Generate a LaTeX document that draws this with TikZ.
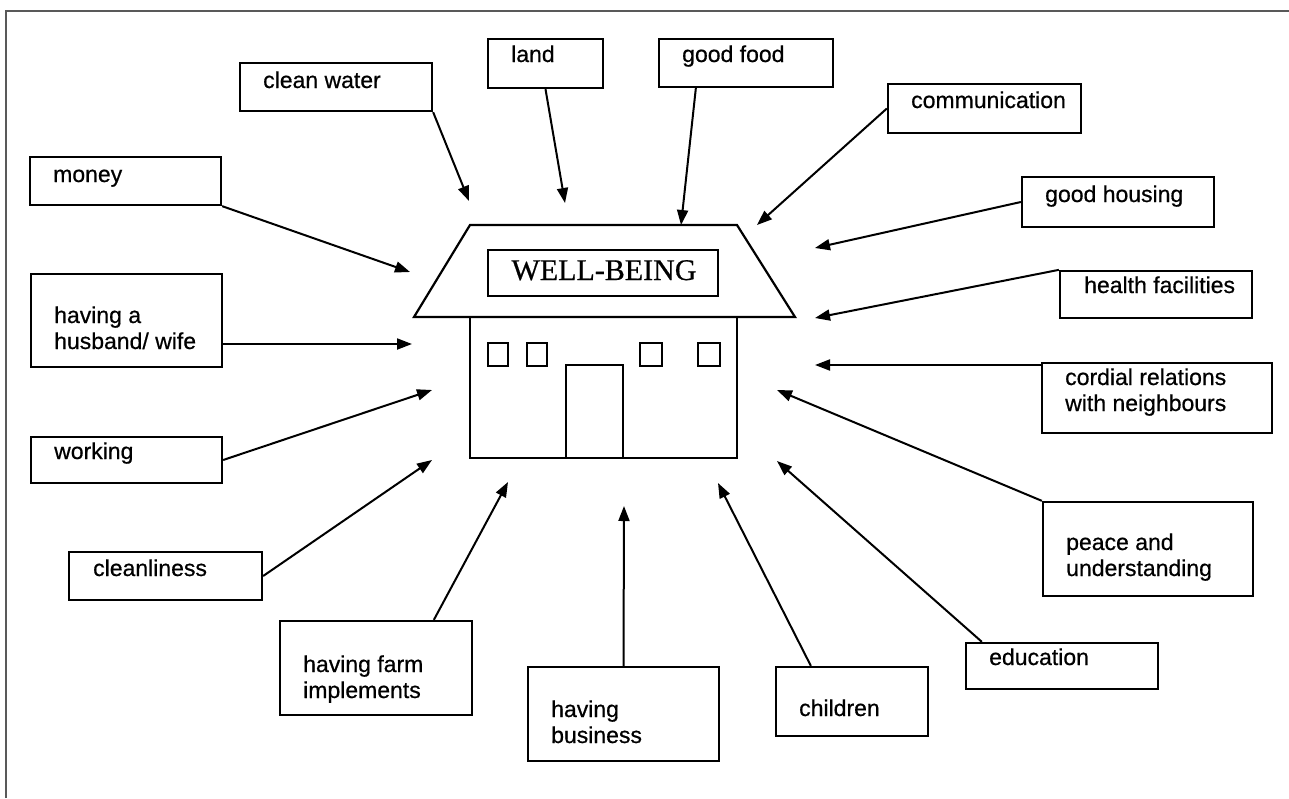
\documentclass[tikz,border=0pt]{standalone}
\usepackage{fontspec}
\setmainfont{Liberation Sans}[FakeBold=0.6]
\newfontfamily\signfont{Liberation Serif}[FakeBold=0.6]
\usetikzlibrary{arrows.meta,calc}

% a rectangular factor box given by its corners (x1,y1) and (x2,y2)
\newcommand\factor[5]{%
  \node[factorbox, minimum width={(#4-#2)*1pt}, minimum height={(#5-#3)*1pt}]
    (#1) at ({(#2+#4)/2},{(#3+#5)/2}) {};}
\newcommand\twolines[2]{\begin{tabular}[t]{@{}l@{}}#1\\#2\end{tabular}}

\begin{document}
\begin{tikzpicture}[x=1pt,y=-1pt,
  factorbox/.style={draw, line width=2.3pt, rectangle, inner sep=0pt},
  lbl/.style={anchor=base west, inner sep=0pt, font=\fontsize{23}{26}\selectfont},
  feed/.style={line width=2pt, -{Triangle[length=15pt,width=11pt]}},
  house/.style={line width=2.2pt, line join=miter}]
\useasboundingbox (0,0) rectangle (1289,798);
\fill[white] (0,0) rectangle (1289,798);
\draw[black!65, line width=1.4pt] (6,798) -- (6,11) -- (1289,11);

% ---- the house ----
\coordinate (roofTL) at (470,225);
\coordinate (roofTR) at (737,225);
\coordinate (roofBR) at (795,317);
\coordinate (roofBL) at (414,317);
\draw[house] (roofTL) -- (roofTR) -- (roofBR) -- (roofBL) -- cycle;
\draw[house] (470,317) rectangle (737,458);
\draw[house] (488,343) rectangle (508,366);
\draw[house] (527,343) rectangle (547,366);
\draw[house] (640,343) rectangle (662,366);
\draw[house] (698,343) rectangle (720,366);
\draw[house] (566,458) -- (566,365) -- (623,365) -- (623,458);
\factor{sign}{488}{250}{718}{296}
\node[anchor=base, inner sep=0pt, font=\signfont\fontsize{30}{32}\selectfont] (signtext) at (604,280) {WELL-BEING};

% ---- factor boxes ----
\factor{cw}{240}{63}{432}{111}
\factor{mo}{30}{157}{221}{205}
\factor{land}{488}{39}{603}{88}
\factor{gf}{659}{39}{833}{87}
\factor{comm}{888}{84}{1081}{133}
\factor{gh}{1022}{177}{1214}{227}
\factor{hf}{1060}{271}{1252}{318}
\factor{cr}{1042}{363}{1272}{433}
\factor{pu}{1043}{502}{1253}{596}
\factor{edu}{966}{643}{1158}{689}
\factor{ch}{776}{667}{928}{736}
\factor{bus}{528}{667}{719}{761}
\factor{farm}{280}{621}{472}{715}
\factor{cl}{69}{552}{262}{600}
\factor{wk}{31}{437}{222}{483}
\factor{hw}{31}{274}{222}{367}

% ---- labels ----
\node[lbl] (cwT) at (263,88) {clean water};
\node[lbl] (moT) at (53,182) {money};
\node[lbl] (landT) at (511,62) {land};
\node[lbl] (gfT) at (682,62) {good food};
\node[lbl] (commT) at (911,108) {communication};
\node[lbl] (ghT) at (1045,202) {good housing};
\node[lbl] (hfT) at (1084,293) {health facilities};
\node[lbl] (crT) at (1065,385) {\twolines{cordial relations}{with neighbours}};
\node[lbl] (puT) at (1066,550) {\twolines{peace and}{understanding}};
\node[lbl] (eduT) at (989,665) {education};
\node[lbl] (chT) at (799,716) {children};
\node[lbl] (busT) at (551,717) {\twolines{having}{business}};
\node[lbl] (farmT) at (303,672) {\twolines{having farm}{implements}};
\node[lbl] (clT) at (93,576) {cleanliness};
\node[lbl] (wkT) at (54,459) {working};
\node[lbl] (hwT) at (54,323) {\twolines{having a}{husband/ wife}};

% ---- arrow tips around the house ----
\coordinate (t1) at (469,201);
\coordinate (t2) at (565,203);
\coordinate (t3) at (681,225);
\coordinate (t4) at (757,225);
\coordinate (t5) at (815,248);
\coordinate (t6) at (815,318);
\coordinate (t7) at (815,365);
\coordinate (t8) at (777,390);
\coordinate (t9) at (777,461);
\coordinate (t10) at (718,483);
\coordinate (t11) at (624,506);
\coordinate (t12) at (508,482);
\coordinate (t13) at (432,460);
\coordinate (t14) at (432,390);
\coordinate (t15) at (412,344);
\coordinate (t16) at (410,272);

% ---- connectors ----
\draw[feed] (cw.south east) -- (t1);
\draw[feed] (land.south) -- (t2);
\draw[feed] ([xshift=38pt]gf.south west) -- (t3);
\draw[feed] (comm.west) -- (t4);
\draw[feed] (gh.west) -- (t5);
\draw[feed] (hf.north west) -- (t6);
\draw[feed] (cr.west |- t7) -- (t7);
\draw[feed] (pu.north west) -- (t8);
\draw[feed] ([xshift=17pt]edu.north west) -- (t9);
\draw[feed] ([xshift=36pt]ch.north west) -- (t10);
\draw[feed] (bus.north) -- (t11);
\draw[feed] ([xshift=155pt]farm.north west) -- (t12);
\draw[feed] (cl.east) -- (t13);
\draw[feed] (wk.east) -- (t14);
\draw[feed] (hw.east |- t15) -- (t15);
\draw[feed] (mo.south east) -- (t16);
\end{tikzpicture}
\end{document}
